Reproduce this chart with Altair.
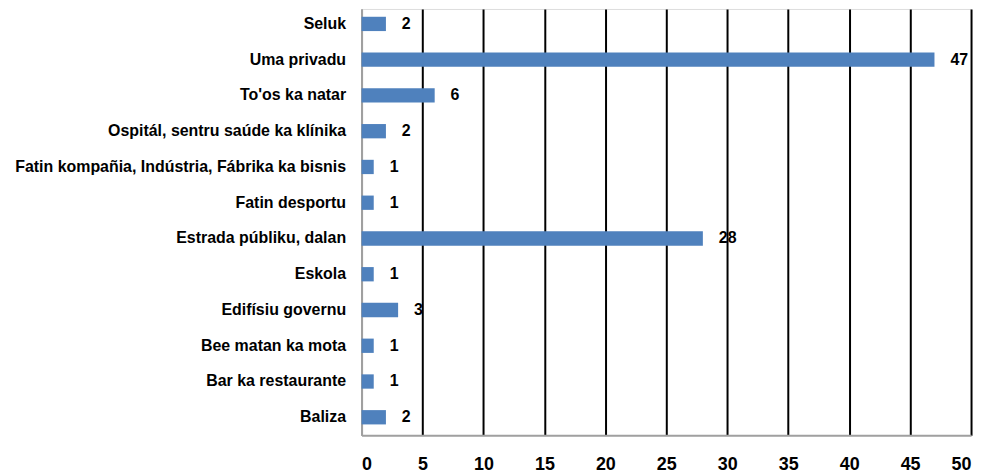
import altair as alt
import pandas as pd

categories = [
    "Seluk",
    "Uma privadu",
    "To'os ka natar",
    "Ospitál, sentru saúde ka klínika",
    "Fatin kompañia, Indústria, Fábrika ka bisnis",
    "Fatin desportu",
    "Estrada públiku, dalan",
    "Eskola",
    "Edifísiu governu",
    "Bee matan ka mota",
    "Bar ka restaurante",
    "Baliza",
]
values = [2, 47, 6, 2, 1, 1, 28, 1, 3, 1, 1, 2]
x_ticks = [0, 5, 10, 15, 20, 25, 30, 35, 40, 45, 50]

df = pd.DataFrame({"category": categories, "value": values})

FONT = "Liberation Sans"

y_enc = alt.Y(
    "category:N",
    sort=categories,
    scale=alt.Scale(paddingInner=0.6, paddingOuter=0.26, align=0.42),
    axis=alt.Axis(
        title=None,
        labelFont=FONT,
        labelFontSize=16,
        labelFontWeight="bold",
        labelColor="black",
        labelPadding=16,
        ticks=False,
        domainColor="#a0a0a0",
        domainWidth=2,
        grid=False,
        labelLimit=400,
    ),
)

x_enc = alt.X(
    "value:Q",
    scale=alt.Scale(domain=[0, 50], nice=False),
    axis=alt.Axis(
        title=None,
        values=x_ticks,
        labelFont=FONT,
        labelFontSize=18,
        labelFontWeight="bold",
        labelColor="black",
        labelPadding=20,
        ticks=False,
        domainColor="#a0a0a0",
        domainWidth=2,
        grid=True,
        gridColor=alt.condition("datum.value == 0", alt.value("#a0a0a0"), alt.value("black")),
        gridWidth=2,
        gridOpacity=1,
    ),
)

bars = alt.Chart(df).mark_bar(color="#4F81BD").encode(x=x_enc, y=y_enc)

text = alt.Chart(df).mark_text(
    align="left",
    baseline="middle",
    dx=16,
    font=FONT,
    fontSize=16,
    fontWeight="bold",
    color="black",
).encode(x="value:Q", y=alt.Y("category:N", sort=categories), text="value:Q")

chart = (
    alt.layer(bars, text)
    .properties(
        width=612,
        height=428,
        autosize=alt.AutoSizeParams(type="none"),
        padding={"left": 355, "top": 0, "right": 10, "bottom": 40},
    )
    .configure_view(stroke=None)
    .configure(background="white")
)

chart.save("out.html", embed_options={"renderer": "svg", "actions": False})
